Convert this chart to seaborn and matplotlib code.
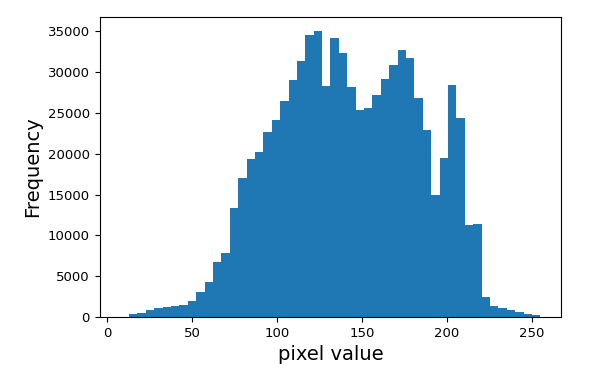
import matplotlib
matplotlib.use("Agg")
import matplotlib.pyplot as plt
import seaborn as sns
import numpy as np
import pandas as pd

# histogram of pixel values: 50 bins between min and max pixel value
pixel_min = 8
pixel_max = 255
n_bins = 50
counts = [
    40, 330, 530, 860, 1140, 1180, 1350, 1510, 1960, 3030,
    4340, 6710, 7900, 13350, 17030, 19360, 20220, 22700, 24110, 26440,
    29020, 31360, 34550, 35040, 28280, 34220, 32380, 28160, 25300, 25620,
    27140, 29100, 30820, 32700, 31680, 26810, 22930, 14980, 19530, 28450,
    24400, 11220, 11420, 2500, 1350, 1070, 860, 580, 410, 210,
]

edges = np.linspace(pixel_min, pixel_max, n_bins + 1)
df = pd.DataFrame({"pixel": (edges[:-1] + edges[1:]) / 2, "count": counts})

fig = plt.figure(figsize=(6.13, 3.76), dpi=100)
ax = fig.add_axes([0.1626, 0.1569, 0.7531, 0.7987])

sns.histplot(data=df, x="pixel", weights="count", bins=n_bins,
             binrange=(pixel_min, pixel_max), color="#1f77b4",
             alpha=1, linewidth=0, ax=ax)

ax.set_xlabel("pixel value", fontsize=14)
ax.set_ylabel("Frequency", fontsize=14)
ax.tick_params(labelsize=9.5)

fig.savefig("out.png", dpi=100)
